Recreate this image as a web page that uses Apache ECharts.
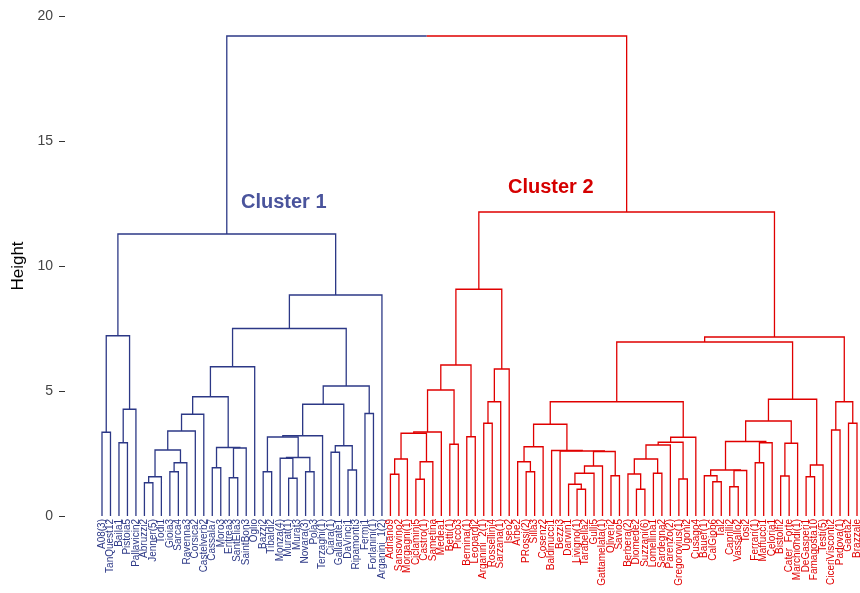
<!DOCTYPE html>
<html lang="en">
<head>
    <meta charset="UTF-8">
    <title>Cluster Dendrogram</title>
    <style>html, body { margin: 0; padding: 0; background: #fff; }</style>
</head>
<body>
    <div id="myChart" style="width: 860px;height:593px;"></div>
</body>
<script src="https://cdn.jsdelivr.net/npm/echarts@6/dist/echarts.min.js"></script>
<script>
    // leaf labels, left to right
    let leaves = [
      'A08(3)', 'TanQuest12', 'Baila1', 'Pistoia5', 'Pallavicin2', 'Abruzzi2', 'Jenner(5)', 'Todi1',
      'Gioia3', 'Sarca4', 'Ravenna3', 'Corsica2', 'Castelverb2', 'Cassala7', 'Moro3', 'Eritrea3',
      'SantElia3', 'SaintBon3', 'Oglio', 'Bazzi2', 'Tibaldi2', 'Monza(4)', 'Murat(1)', 'Murat3',
      'Novara(3)', 'Pola3', 'Terzaghi(1)', 'Ciara(1)', 'Gallarate1', 'DaVinci1', 'Ripamonti3', 'Fermi1',
      'Forlanini(1)', 'Arganini_1(2)',
      'Adriano9', 'Sansovino2', 'Morgagni(1)', 'Ciclamini5', 'Castro(1)', 'Sametina', 'Medea1', 'Betti(1)',
      'Picco3', 'Bernina(1)', 'Leopardi2', 'Arganini_2(1)', 'Rossellini4', 'Sarzana(1)', 'Iseo2', 'Arbe2',
      'PRossi(2)', 'Silla3', 'Cosenz2', 'Baldinucci1', 'Bezzi3', 'Darwin1', 'Livigno(1)', 'Tarabella2',
      'Gulli5', 'Gattamelata(1)', 'Oliveri2', 'Savio5', 'Berbera(2)', 'Diomede2', 'Suzzani(6)', 'Lomellina1',
      'Sardegna2', 'Parenzo(2)', 'Gregorovius(1)', 'Ugoni2', 'Cusago4', 'Bauer(1)', 'CalGiob6', 'Tal2',
      'Caprilli2', 'Vassallo2', 'Tosi2', 'Ferrari(1)', 'Maffucci1', 'Celoria1', 'Bistolfi2', 'Cater_Forte',
      'Marchiondi(1)', 'DeGasperi1', 'Famagosta10', 'Testi(5)', 'CiceriVisconti2', 'Padova(1)', 'Gaeta2', 'Brazzale'
    ];
    let cluster1Size = 34;

    // hclust style: negative = leaf number, positive = earlier merge number, then height
    let merges = [
      [-1, -2, 3.35], [-3, -4, 2.93], [2, -5, 4.27], [1, 3, 7.21],
      [-6, -7, 1.33], [5, -8, 1.57], [-9, -10, 1.77], [7, -11, 2.13],
      [6, 8, 2.64], [9, -12, 3.40], [10, -13, 4.07], [-14, -15, 1.93],
      [-16, -17, 1.53], [13, -18, 2.72], [12, 14, 2.74], [11, 15, 4.77],
      [16, -19, 5.97], [-20, -21, 1.77], [-23, -24, 1.51], [-22, 19, 2.31],
      [-25, -26, 1.77], [20, 21, 2.34], [18, 22, 3.16], [23, -27, 3.21],
      [-28, -29, 2.55], [-30, -31, 1.84], [25, 26, 2.81], [24, 27, 4.47],
      [-32, -33, 4.10], [28, 29, 5.20], [17, 30, 7.50], [31, -34, 8.84],
      [4, 32, 11.28],
      [-35, -36, 1.67], [34, -37, 2.28], [-38, -39, 1.47], [36, -40, 2.17],
      [35, 37, 3.31], [38, -41, 3.36], [-42, -43, 2.87], [39, 40, 5.04],
      [-44, -45, 3.17], [41, 42, 6.04], [-46, -47, 3.71], [44, -48, 4.57],
      [45, -49, 5.88], [43, 46, 9.07], [-51, -52, 1.77], [-50, 48, 2.17],
      [49, -53, 2.77], [-57, -58, 1.07], [-56, 51, 1.27], [52, -59, 1.71],
      [53, -60, 2.00], [-61, -62, 1.61], [54, 55, 2.58], [-55, 56, 2.60],
      [-54, 57, 2.62], [50, 58, 3.67], [-64, -65, 1.07], [-63, 60, 1.68],
      [-66, -67, 1.71], [61, 62, 2.28], [63, -68, 2.84], [-69, -70, 1.48],
      [64, 65, 2.95], [66, -71, 3.15], [59, 67, 4.57], [-73, -74, 1.37],
      [-72, 69, 1.61], [-75, -76, 1.17], [71, -77, 1.82], [70, 72, 1.84],
      [-78, -79, 2.13], [74, -80, 2.93], [73, 75, 2.98], [-81, -82, 1.60],
      [77, -83, 2.91], [76, 78, 3.80], [-84, -85, 1.57], [80, -86, 2.04],
      [79, 81, 4.67], [68, 82, 6.96], [-87, -88, 3.44], [-89, -90, 3.71],
      [84, 85, 4.57], [83, 86, 7.16], [47, 87, 12.16],
      [33, 88, 19.20]
    ];

    let heightTicks = [0, 5, 10, 15, 20];

    let blue = '#2c3886';
    let red = '#e00000';

    // walk the merges and turn each into an upside-down U
    // x is the leaf position (0-based), y is the merge height
    let pos = [];
    let col = [];
    let segs = [];
    function node (ref) {
      if (ref < 0) {
        let i = -ref;
        return { x: i - 1, h: 0, c: i <= cluster1Size ? blue : red };
      }
      return { x: pos[ref], h: merges[ref - 1][2], c: col[ref] };
    }
    merges.forEach(function (m, k) {
      let a = node(m[0]);
      let b = node(m[1]);
      let h = m[2];
      if (a.x > b.x) { let t = a; a = b; b = t; }
      let mid = (a.x + b.x) / 2;
      pos[k + 1] = mid;
      if (a.c === b.c) {
        col[k + 1] = a.c;
        segs.push({ coords: [[a.x, a.h], [a.x, h], [b.x, h], [b.x, b.h]], lineStyle: { color: a.c } });
      } else {
        col[k + 1] = null;
        segs.push({ coords: [[a.x, a.h], [a.x, h], [mid, h]], lineStyle: { color: a.c } });
        segs.push({ coords: [[mid, h], [b.x, h], [b.x, b.h]], lineStyle: { color: b.c } });
      }
    });

    let chart = echarts.init(document.getElementById('myChart'));
    let font = '"Liberation Sans", Arial, sans-serif';
    let option = {
      animation: false,
      grid: { left: 102, right: 3, top: 16, bottom: 77, containLabel: false, outerBoundsMode: 'none' },
      xAxis: [{
        // leaf names
        type: 'category',
        data: leaves,
        boundaryGap: false,
        axisLine: { show: false, onZero: false },
        axisTick: { show: false },
        splitLine: { show: false },
        axisLabel: {
          interval: 0,
          rotate: 90,
          margin: 3,
          fontSize: 10,
          fontFamily: font,
          color: function (v, i) { return i < cluster1Size ? blue : red; }
        }
      }, {
        // continuous leaf position, so merge midpoints are not snapped
        type: 'value',
        min: 0,
        max: leaves.length - 1,
        show: false
      }],
      yAxis: {
        type: 'value',
        min: heightTicks[0],
        max: heightTicks[heightTicks.length - 1],
        interval: 5,
        offset: 37,
        name: 'Height',
        nameLocation: 'middle',
        nameGap: 35,
        nameTextStyle: { fontSize: 17, color: '#000', fontFamily: font },
        axisLine: { show: false, onZero: false },
        axisTick: { show: true, length: 6, lineStyle: { color: '#333' } },
        splitLine: { show: false },
        axisLabel: { fontSize: 14, color: '#444', margin: 12, fontFamily: font }
      },
      graphic: [
        { type: 'text', x: 241, y: 202, style: { text: 'Cluster 1', fill: '#4a549c', font: 'bold 20px ' + font, verticalAlign: 'middle' } },
        { type: 'text', x: 508, y: 187, style: { text: 'Cluster 2', fill: '#d50000', font: 'bold 20px ' + font, verticalAlign: 'middle' } }
      ],
      series: [{
        type: 'lines',
        coordinateSystem: 'cartesian2d',
        xAxisIndex: 1,
        polyline: true,
        silent: true,
        lineStyle: { width: 1.3, opacity: 1 },
        data: segs
      }]
    };
    chart.setOption(option);
</script>
</html>
